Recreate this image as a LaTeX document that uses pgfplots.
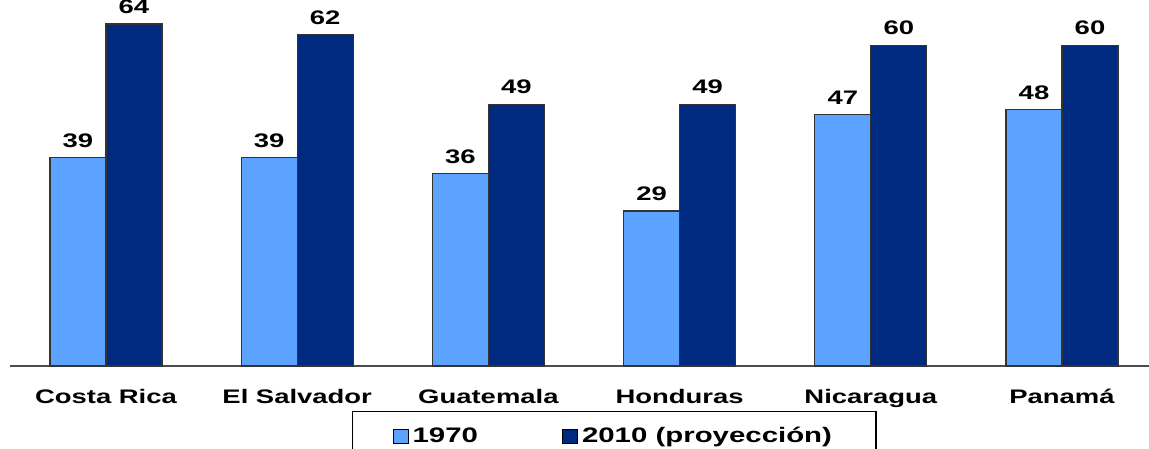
\documentclass[border=0pt]{standalone}
\usepackage{fontspec}
\setmainfont{Liberation Sans}
\newfontfamily\lbl[FakeStretch=1.4]{Liberation Sans}
\usepackage{pgfplots}
\pgfplotsset{compat=1.18}
\definecolor{lightb}{RGB}{91,163,255}
\definecolor{darkb}{RGB}{0,42,128}
\begin{document}
\begin{tikzpicture}
\begin{axis}[
  name=ax,
  scale only axis,
  width=569.5pt, height=183pt,
  xmin=-0.502, xmax=5.455,
  ymin=0, ymax=68.5,
  axis y line=none,
  axis x line*=bottom,
  x axis line style={draw=black!70, line width=1pt},
  ybar=0pt, bar width=28pt,
  xtick={0,1,2,3,4,5},
  xticklabels={Costa Rica, El Salvador, Guatemala, Honduras, Nicaragua, Panamá},
  major tick length=0pt,
  xticklabel style={font=\lbl\bfseries\fontsize{9.8}{10}\selectfont, yshift=-8pt},
  nodes near coords,
  /pgf/number format/assume math mode=true,
  every node near coord/.append style={font=\lbl\bfseries\fontsize{9.8}{10}\selectfont, yshift=1.5pt},
  clip=false,
  legend columns=2,
  legend style={at={(0.3003,0)}, anchor=north west, yshift=-22.5pt,
    draw=black, line width=0.6pt, font=\lbl\bfseries\fontsize{10.5}{11}\selectfont,
    inner xsep=20pt, inner ysep=6pt,
    /tikz/every even column/.append style={column sep=40pt}},
  legend image code/.code={\draw[#1,draw=black,line width=0.5pt] (0pt,-3.5pt) rectangle (7.5pt,3.5pt);},
]
\addplot[fill=lightb, draw=black!80, line width=0.6pt] coordinates {(0,39) (1,39) (2,36) (3,29) (4,47) (5,48)};
\addplot[fill=darkb, draw=black!80, line width=0.6pt] coordinates {(0,64) (1,62) (2,49) (3,49) (4,60) (5,60)};
\legend{1970, 2010 (proyección)}
\end{axis}
\pgfresetboundingbox
\path[use as bounding box] ([xshift=-5pt,yshift=-41.5pt]ax.south west) rectangle (ax.north east);
\end{tikzpicture}
\end{document}
